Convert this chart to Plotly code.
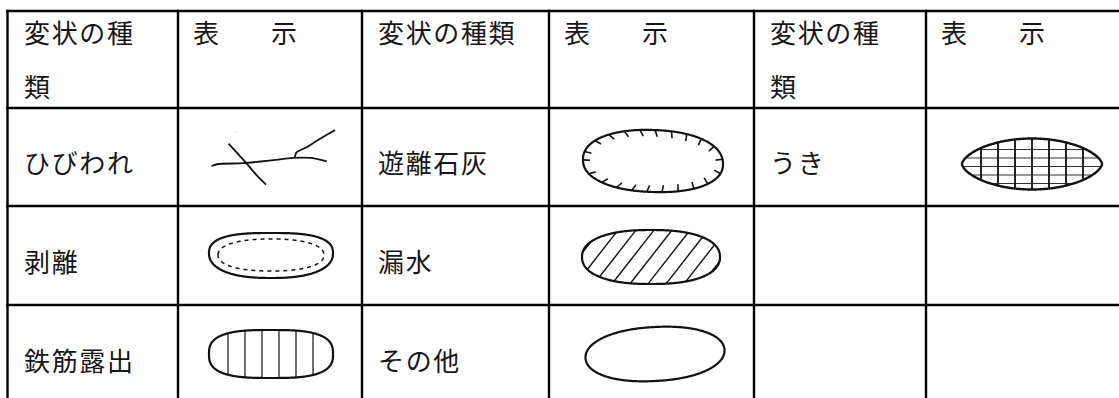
import numpy as np
import plotly.graph_objects as go

W, H = 1119, 398

# ---- table content ----
header_kind = "変状の種類"
header_mark = "表　　示"
kinds = [["ひびわれ", "剥離", "鉄筋露出"],
         ["遊離石灰", "漏水", "その他"],
         ["うき", "", ""]]
marks = [["crack", "peel", "rebar"],
         ["lime", "leak", "other"],
         ["float", None, None]]

# ---- layout of the grid (pixel space) ----
col_x = [7.5, 178, 362, 549, 754, 926, 1138]
row_y = [11, 108, 206, 305, 404]

FONT = "Noto Sans CJK JP, Noto Sans CJK SC, sans-serif"
FS = 26
INK = "#161616"
PAD = 14


def spaced(s, sp="\u200a"):
    return sp.join(list(s))


fig = go.Figure()
annotations = []
shapes = []

# grid lines
for yv in row_y:
    shapes.append(dict(type="line", xref="x", yref="y", x0=col_x[0] - 1.2, x1=col_x[-1],
                       y0=yv, y1=yv, line=dict(color="black", width=2.4)))
for xv in col_x:
    shapes.append(dict(type="line", xref="x", yref="y", x0=xv, x1=xv,
                       y0=row_y[0] - 1.2, y1=row_y[-1], line=dict(color="black", width=2.4)))


def add_text(x, y, s, sp="\u200a"):
    annotations.append(dict(x=x, y=y, xref="x", yref="y", text=spaced(s, sp),
                            showarrow=False, xanchor="left", yanchor="middle",
                            font=dict(family=FONT, size=FS, color=INK)))


# headers
for g in range(3):
    kx0, kx1 = col_x[2 * g], col_x[2 * g + 1]
    mx0 = col_x[2 * g + 1]
    maxc = int((kx1 - kx0 - 2 * PAD) // 30)
    lines = [header_kind[i:i + maxc] for i in range(0, len(header_kind), maxc)]
    for li, ln in enumerate(lines):
        add_text(kx0 + PAD, 31 + 54 * li, ln)
    add_text(mx0 + PAD - 1, 31, header_mark, "")

# body text (body rows start at grid row 1)
for g in range(3):
    for r in range(3):
        s = kinds[g][r]
        if s:
            yc = (row_y[r + 1] + row_y[r + 2]) / 2 + 4.5
            add_text(col_x[2 * g] + PAD, yc, s)


# ---- symbol drawing helpers ----
def blob(a, bt, bb, m, p, slope=0.0, bend=0.0, npts=160):
    t = np.linspace(0, np.pi, npts)
    x = -a * np.cos(t)
    base = np.clip(1 - np.abs(x / a) ** m, 0, 1) ** p
    yc = slope * x + bend * (x / a) ** 2
    xt, yt = x, yc - bt * base
    xb, yb = x[::-1], (yc + bb * base)[::-1]
    return np.concatenate([xt, xb, xt[:1]]), np.concatenate([yt, yb, yt[:1]])


def inside_fn(a, bt, bb, m, p, slope=0.0, bend=0.0, shrink=1.0):
    def f(x, y):
        x = np.asarray(x)
        base = np.clip(1 - np.abs(x / a) ** m, 0, 1) ** p
        yc = slope * x + bend * (x / a) ** 2
        ok = (np.abs(x) < a * shrink) & (y >= yc - bt * base * shrink) & (y <= yc + bb * base * shrink)
        return ok
    return f


def clip_line(f, p0, d, smin=-120, smax=120):
    s = np.linspace(smin, smax, 1200)
    xs = p0[0] + s * d[0]
    ys = p0[1] + s * d[1]
    ok = f(xs, ys)
    if not ok.any():
        return None
    idx = np.where(ok)[0]
    return (xs[idx[0]], ys[idx[0]]), (xs[idx[-1]], ys[idx[-1]])


def add_path(xs, ys, cx, cy, width=2.0, dash="solid", color="#111111"):
    xs = [None if v is None else v + cx for v in xs]
    ys = [None if v is None else v + cy for v in ys]
    fig.add_trace(go.Scatter(x=xs, y=ys, mode="lines", hoverinfo="skip", showlegend=False,
                             line=dict(color=color, width=width, dash=dash, shape="spline",
                                       smoothing=0.6)))


def seg_list(segs):
    xs, ys = [], []
    for (x0, y0), (x1, y1) in segs:
        xs += [x0, x1, None]
        ys += [y0, y1, None]
    return xs, ys


def draw_crack(cx, cy):
    main = [(-58.6, 19), (-52.1, 17), (-27.1, 16.2), (1, 13.4), (22.9, 10.9), (40.7, 10.9), (56.8, 14.4)]
    cross = [(-41.4, -3.4), (-23.6, 16.2), (-13, 28.7), (-4, 37.6)]
    branch = [(24.6, 10.9), (26.4, 5.5), (37, 0), (48, -7), (65, -17)]
    for pts in (main, cross, branch):
        add_path([p[0] for p in pts], [p[1] for p in pts], cx, cy, width=1.8)
    add_path([-34.6, -34.0], [-15, -15], cx, cy, width=1.2, color="#888888")


def draw_peel(cx, cy):
    x, y = blob(62, 22, 23, 2.6, 0.42, slope=0.0, bend=-2)
    add_path(list(x), list(y), cx, cy, width=2.2)
    x, y = blob(53, 16, 16, 2.3, 0.45)
    add_path(list(x), list(y), cx, cy, width=1.5, dash="4px,4px")


def draw_rebar(cx, cy):
    prm = (62, 24, 24, 3.0, 0.36)
    x, y = blob(*prm)
    add_path(list(x), list(y), cx, cy, width=2.2)
    f = inside_fn(*prm)
    segs = []
    for ox in (-43, -26, -9, 8, 25, 42):
        r = clip_line(f, (ox, 0), (0, 1))
        if r:
            segs.append(r)
    xs, ys = seg_list(segs)
    add_path(xs, ys, cx, cy, width=1.2)


def draw_lime(cx, cy):
    prm = (70, 32, 30, 2.2, 0.45)
    x, y = blob(*prm, slope=0.03)
    add_path(list(x), list(y), cx, cy, width=2.2)
    pts = np.column_stack([x, y])
    seg = np.sqrt(((pts[1:] - pts[:-1]) ** 2).sum(1))
    cum = np.concatenate([[0], np.cumsum(seg)])
    total = cum[-1]
    segs = []
    for s in np.arange(8, total, 15.5):
        i = np.searchsorted(cum, s)
        px, py = pts[min(i, len(pts) - 1)]
        vx, vy = -px, -py * 2.2
        nrm = np.hypot(vx, vy)
        vx, vy = vx / nrm, vy / nrm
        vx += 0.35
        nrm = np.hypot(vx, vy)
        vx, vy = vx / nrm, vy / nrm
        segs.append(((px, py), (px + 7 * vx, py + 7 * vy)))
    xs, ys = seg_list(segs)
    add_path(xs, ys, cx, cy, width=1.6)


def draw_leak(cx, cy):
    prm = (69, 27, 27, 2.4, 0.45)
    x, y = blob(*prm)
    add_path(list(x), list(y), cx, cy, width=2.2)
    f = inside_fn(*prm)
    th = np.deg2rad(52)
    d = (np.cos(th), -np.sin(th))
    segs = []
    for ox in np.arange(-72, 90, 18):
        r = clip_line(f, (ox, 0), d)
        if r:
            segs.append(r)
    xs, ys = seg_list(segs)
    add_path(xs, ys, cx, cy, width=1.4)


def draw_other(cx, cy):
    x, y = blob(69.5, 27, 27, 2.2, 0.48, slope=-0.05)
    add_path(list(x), list(y), cx, cy, width=2.2)


def draw_float(cx, cy):
    prm = (70, 25.5, 25.5, 2.0, 0.62)
    x, y = blob(*prm)
    f = inside_fn(*prm)
    segs_v, segs_h = [], []
    for ox in np.arange(-51, 60, 17):
        r = clip_line(f, (ox, 0), (0, 1))
        if r:
            segs_v.append(r)
    for oy in np.arange(-14.5, 26, 8.5):
        r = clip_line(f, (0, oy), (1, 0))
        if r:
            segs_h.append(r)
    xs, ys = seg_list(segs_h)
    add_path(xs, ys, cx, cy, width=1.1, color="#333333")
    xs, ys = seg_list(segs_v)
    add_path(xs, ys, cx, cy, width=2.0, color="#222222")
    add_path(list(x), list(y), cx, cy, width=2.4)


drawers = dict(crack=draw_crack, peel=draw_peel, rebar=draw_rebar,
               lime=draw_lime, leak=draw_leak, other=draw_other, float=draw_float)
nudge = dict(crack=(0, -10), peel=(1, -0.5), rebar=(1, -0.5), lime=(1.5, 5),
             leak=(-0.5, 1.5), other=(3.5, -0.5), float=(0, 7))

for g in range(3):
    for r in range(3):
        mk = marks[g][r]
        if mk:
            cx = (col_x[2 * g + 1] + col_x[2 * g + 2]) / 2 + nudge[mk][0]
            cy = (row_y[r + 1] + row_y[r + 2]) / 2 + nudge[mk][1]
            drawers[mk](cx, cy)

fig.update_layout(
    width=W, height=H, margin=dict(l=0, r=0, t=0, b=0),
    paper_bgcolor="white", plot_bgcolor="white",
    xaxis=dict(range=[0, W], visible=False, fixedrange=True),
    yaxis=dict(range=[H, 0], visible=False, fixedrange=True),
    shapes=shapes, annotations=annotations, showlegend=False,
)
fig.write_html("out.html", config=dict(displayModeBar=False),
               post_script="document.body.style.margin='0';document.body.style.overflow='hidden';")
